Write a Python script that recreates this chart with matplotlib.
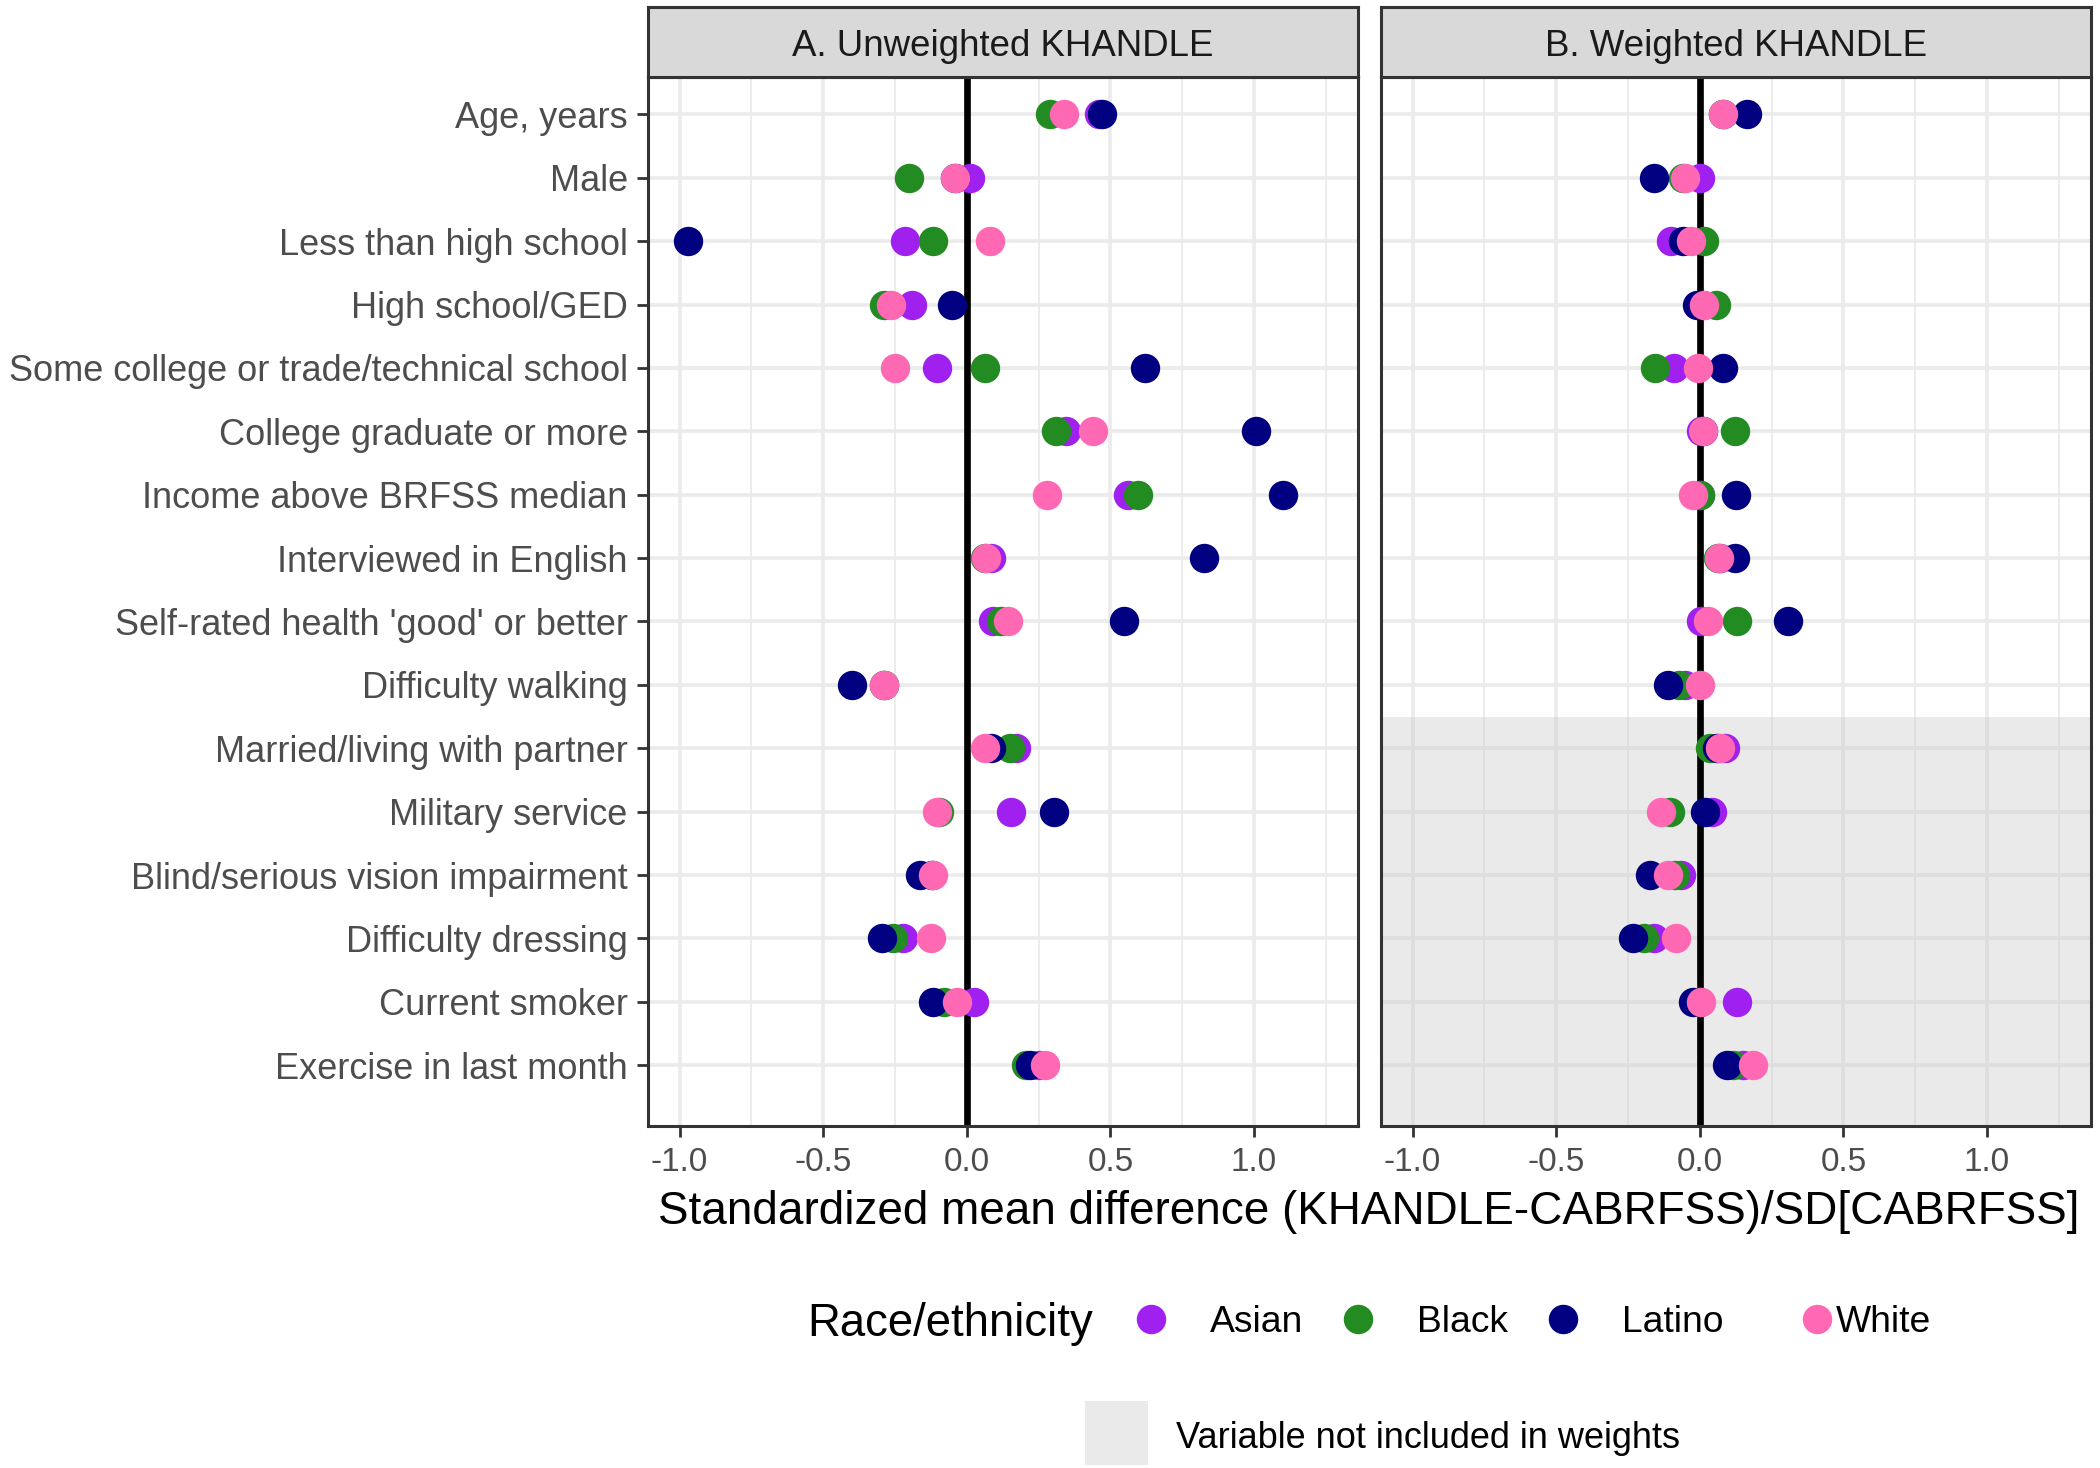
import matplotlib
matplotlib.use("Agg")
import matplotlib.pyplot as plt
from matplotlib.lines import Line2D
from matplotlib.patches import Rectangle

plt.rcParams['font.family'] = ['Liberation Sans', 'DejaVu Sans']

categories = ["Age, years", "Male", "Less than high school", "High school/GED",
              "Some college or trade/technical school", "College graduate or more",
              "Income above BRFSS median", "Interviewed in English",
              "Self-rated health 'good' or better", "Difficulty walking",
              "Married/living with partner", "Military service",
              "Blind/serious vision impairment", "Difficulty dressing",
              "Current smoker", "Exercise in last month"]

groups = ["Asian", "Black", "Latino", "White"]
group_colors = ["#A020F0", "#228B22", "#000080", "#FF69B4"]

# panel A: unweighted
unw_asian = [0.46, 0.01, -0.216, -0.19, -0.105, 0.345, 0.56, 0.085, 0.09, -0.29, 0.17, 0.155, -0.12, -0.222, 0.024, 0.25]
unw_black = [0.29, -0.20, -0.118, -0.29, 0.062, 0.31, 0.596, 0.064, 0.12, -0.29, 0.152, -0.096, -0.12, -0.257, -0.08, 0.205]
unw_latino = [0.47, -0.04, -0.97, -0.05, 0.62, 1.007, 1.10, 0.826, 0.548, -0.398, 0.083, 0.304, -0.163, -0.297, -0.118, 0.219]
unw_white = [0.34, -0.04, 0.08, -0.265, -0.25, 0.44, 0.28, 0.067, 0.145, -0.29, 0.064, -0.105, -0.118, -0.126, -0.034, 0.273]

# panel B: weighted
w_asian = [0.08, 0.0, -0.099, 0.01, -0.091, 0.005, 0.0, 0.07, 0.005, -0.05, 0.086, 0.043, -0.064, -0.16, 0.128, 0.15]
w_black = [0.08, -0.059, 0.014, 0.056, -0.155, 0.123, 0.0, 0.064, 0.128, -0.072, 0.035, -0.104, -0.085, -0.193, 0.0, 0.115]
w_latino = [0.166, -0.161, -0.059, -0.011, 0.081, 0.01, 0.125, 0.121, 0.308, -0.112, 0.06, 0.018, -0.173, -0.232, -0.022, 0.096]
w_white = [0.08, -0.053, -0.03, 0.014, -0.008, 0.01, -0.022, 0.067, 0.03, 0.0, 0.07, -0.134, -0.112, -0.083, 0.005, 0.184]

# first variable not used in the weights
first_unweighted = "Married/living with partner"

panels = [("A. Unweighted KHANDLE", [unw_asian, unw_black, unw_latino, unw_white], False),
          ("B. Weighted KHANDLE", [w_asian, w_black, w_latino, w_white], True)]

W, H = 2100, 1468
fig = plt.figure(figsize=(W / 200, H / 200), dpi=200)

n = len(categories)
ypos = list(range(n, 0, -1))
xticks = [-1.0, -0.5, 0.0, 0.5, 1.0]
minor = [-0.75, -0.25, 0.25, 0.75, 1.25]
panel_left = [648, 1381]
panel_w = 710
top, bottom = 77, 1126
ylo, yhi = 0.04, n + 0.59

for (title, series, shade), left in zip(panels, panel_left):
    ax = fig.add_axes([left / W, 1 - bottom / H, panel_w / W, (bottom - top) / H])
    ax.set_xlim(-1.11, 1.362)
    ax.set_ylim(ylo, yhi)
    for v in xticks:
        ax.axvline(v, color="#EBEBEB", lw=1.3, zorder=0)
    for v in minor:
        ax.axvline(v, color="#EBEBEB", lw=0.65, zorder=0)
    for y in ypos:
        ax.axhline(y, color="#EBEBEB", lw=1.3, zorder=0)
    if shade:
        k = categories.index(first_unweighted)
        ax.add_patch(Rectangle((-1.11, ylo), 2.472, ypos[k] + 0.5 - ylo,
                               facecolor="#C7C7C7", alpha=0.36, lw=0, zorder=1))
    ax.axvline(0, color="black", lw=2.4, zorder=2)
    for vals, col in zip(series, group_colors):
        ax.scatter(vals, ypos, s=112, color=col, lw=0, zorder=3)
    ax.set_xticks(xticks)
    ax.set_xticklabels(["-1.0", "-0.5", "0.0", "0.5", "1.0"])
    ax.set_yticks(ypos)
    ax.tick_params(axis="x", labelsize=12, colors="#333333", labelcolor="#4D4D4D",
                   length=3.9, width=1.0, pad=3.8)
    if left == panel_left[0]:
        ax.set_yticklabels(categories)
        ax.tick_params(axis="y", labelsize=13.0, colors="#333333", labelcolor="#4D4D4D",
                       length=3.8, width=1.0, pad=3.5)
    else:
        ax.set_yticklabels([])
        ax.tick_params(axis="y", length=0)
    for sp in ax.spines.values():
        sp.set_color("#333333")
        sp.set_linewidth(1.1)
        sp.set_zorder(4)

    # facet strip
    sax = fig.add_axes([left / W, 1 - top / H, panel_w / W, 70 / H])
    sax.set_facecolor("#D9D9D9")
    sax.set_xticks([])
    sax.set_yticks([])
    for sp in sax.spines.values():
        sp.set_color("#333333")
        sp.set_linewidth(1.1)
    sax.text(0.5, 0.44, title, ha="center", va="center", fontsize=13.2,
             color="#1A1A1A", transform=sax.transAxes)

fig.text(1369 / W, 1 - 1212 / H, "Standardized mean difference (KHANDLE-CABRFSS)/SD[CABRFSS]",
         ha="center", va="center", fontsize=16.5, color="black")

# colour legend
ly = 1 - 1319 / H
fig.text(807 / W, ly, "Race/ethnicity", ha="left", va="center_baseline", fontsize=16.4)
marker_x = [1151, 1358, 1563, 1817]
label_x = [1210, 1417, 1622, 1836]
for g, col, mx, tx in zip(groups, group_colors, marker_x, label_x):
    fig.add_artist(Line2D([mx / W], [ly], marker="o", markersize=10.6, color=col,
                          markeredgewidth=0, transform=fig.transFigure))
    fig.text(tx / W, ly, g, ha="left", va="center_baseline", fontsize=13.4)

# shading legend
fig.add_artist(Rectangle((1085 / W, 1 - 1465 / H), 63 / W, 64 / H, facecolor="#C7C7C7",
                         alpha=0.36, lw=0, transform=fig.transFigure))
fig.text(1176 / W, 1 - 1435 / H, "Variable not included in weights", ha="left",
         va="center_baseline", fontsize=13.0)

fig.savefig("out.png", dpi=200)
